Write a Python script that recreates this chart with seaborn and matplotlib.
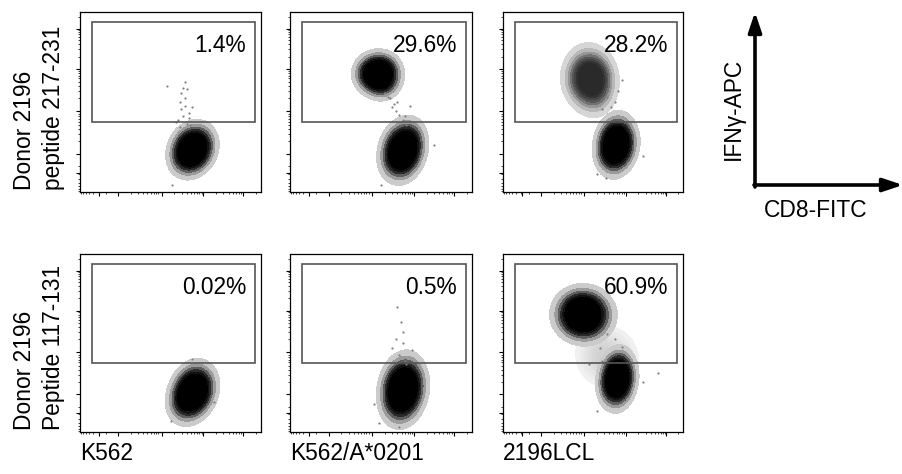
import numpy as np
import pandas as pd
import matplotlib
matplotlib.use("Agg")
import matplotlib.pyplot as plt
from matplotlib.patches import Rectangle
import seaborn as sns

# stimulator cells (columns) and donor/peptide (rows)
targets = ["K562", "K562/A*0201", "2196LCL"]
row_labels = ["Donor 2196\npeptide 217-231", "Donor 2196\nPeptide 117-131"]
gate_pct = [["1.4%", "29.6%", "28.2%"],
            ["0.02%", "0.5%", "60.9%"]]

# IFNg+ gate (fraction of channel range)
gate_x = [0.066, 0.968]
gate_y = [0.39, 0.943]

# cluster cores: centre + outline (N, NE, E, SE, S, SW, W, NW)
r1c1_neg_x = [0.62, 0.625, 0.67, 0.69, 0.665, 0.615, 0.57, 0.555, 0.575]
r1c1_neg_y = [0.235, 0.31, 0.295, 0.245, 0.185, 0.16, 0.175, 0.225, 0.285]

r1c2_pos_x = [0.48, 0.49, 0.535, 0.55, 0.53, 0.49, 0.44, 0.415, 0.44]
r1c2_pos_y = [0.655, 0.715, 0.70, 0.65, 0.60, 0.585, 0.61, 0.655, 0.70]
r1c2_neg_x = [0.62, 0.63, 0.67, 0.685, 0.66, 0.615, 0.57, 0.555, 0.575]
r1c2_neg_y = [0.235, 0.32, 0.30, 0.24, 0.17, 0.145, 0.165, 0.22, 0.29]

r1c3_pos_x = [0.48, 0.48, 0.535, 0.555, 0.54, 0.50, 0.44, 0.405, 0.43]
r1c3_pos_y = [0.63, 0.715, 0.69, 0.63, 0.56, 0.525, 0.555, 0.62, 0.69]
r1c3_neg_x = [0.625, 0.635, 0.675, 0.69, 0.665, 0.62, 0.58, 0.57, 0.59]
r1c3_neg_y = [0.265, 0.35, 0.32, 0.26, 0.20, 0.175, 0.20, 0.26, 0.325]

r2c1_neg_x = [0.62, 0.63, 0.675, 0.69, 0.665, 0.61, 0.565, 0.555, 0.58]
r2c1_neg_y = [0.22, 0.31, 0.285, 0.23, 0.165, 0.135, 0.155, 0.21, 0.28]

r2c2_neg_x = [0.62, 0.625, 0.67, 0.69, 0.665, 0.615, 0.57, 0.555, 0.575]
r2c2_neg_y = [0.24, 0.34, 0.315, 0.245, 0.17, 0.135, 0.16, 0.23, 0.305]

r2c3_pos_x = [0.44, 0.44, 0.50, 0.535, 0.51, 0.45, 0.39, 0.36, 0.385]
r2c3_pos_y = [0.66, 0.735, 0.72, 0.665, 0.60, 0.58, 0.60, 0.655, 0.715]
r2c3_mid_x = [0.57, 0.57, 0.63, 0.66, 0.63, 0.58, 0.52, 0.50, 0.52]
r2c3_mid_y = [0.42, 0.50, 0.48, 0.42, 0.36, 0.34, 0.37, 0.43, 0.48]
r2c3_neg_x = [0.635, 0.64, 0.675, 0.69, 0.67, 0.63, 0.59, 0.58, 0.60]
r2c3_neg_y = [0.30, 0.385, 0.36, 0.30, 0.235, 0.21, 0.235, 0.295, 0.36]

# sparse single events outside the cores
r1c1_dots_x = [0.48, 0.58, 0.55, 0.58, 0.56, 0.60, 0.57, 0.54, 0.59, 0.61, 0.56, 0.58, 0.55, 0.60, 0.57, 0.53, 0.59, 0.62, 0.51, 0.66]
r1c1_dots_y = [0.59, 0.61, 0.50, 0.52, 0.46, 0.44, 0.42, 0.40, 0.38, 0.37, 0.55, 0.48, 0.36, 0.41, 0.58, 0.39, 0.57, 0.47, 0.04, 0.12]
r1c2_dots_x = [0.52, 0.55, 0.57, 0.58, 0.60, 0.62, 0.56, 0.59, 0.63, 0.54, 0.61, 0.64, 0.79, 0.50, 0.66]
r1c2_dots_y = [0.55, 0.52, 0.49, 0.45, 0.43, 0.40, 0.47, 0.50, 0.42, 0.53, 0.38, 0.37, 0.26, 0.04, 0.48]
r1c3_dots_x = [0.58, 0.62, 0.64, 0.60, 0.55, 0.66, 0.78, 0.52, 0.57, 0.45]
r1c3_dots_y = [0.53, 0.50, 0.56, 0.47, 0.46, 0.62, 0.20, 0.10, 0.08, 0.50]
r2c1_dots_x = [0.62, 0.50, 0.74]
r2c1_dots_y = [0.41, 0.06, 0.17]
r2c2_dots_x = [0.59, 0.62, 0.56, 0.67, 0.60, 0.63, 0.58, 0.61, 0.64, 0.57, 0.62, 0.46, 0.49, 0.60]
r2c2_dots_y = [0.70, 0.56, 0.47, 0.46, 0.43, 0.40, 0.52, 0.62, 0.38, 0.39, 0.50, 0.16, 0.05, 0.03]
r2c3_dots_x = [0.86, 0.78, 0.52, 0.58, 0.62, 0.55, 0.66, 0.54, 0.48]
r2c3_dots_y = [0.33, 0.28, 0.12, 0.55, 0.52, 0.40, 0.48, 0.47, 0.38]

clusters = [
    (0, 0, r1c1_neg_x, r1c1_neg_y, "dark"),
    (0, 1, r1c2_pos_x, r1c2_pos_y, "dark"),
    (0, 1, r1c2_neg_x, r1c2_neg_y, "dark"),
    (0, 2, r1c3_pos_x, r1c3_pos_y, "grey"),
    (0, 2, r1c3_neg_x, r1c3_neg_y, "dark"),
    (1, 0, r2c1_neg_x, r2c1_neg_y, "dark"),
    (1, 1, r2c2_neg_x, r2c2_neg_y, "dark"),
    (1, 2, r2c3_mid_x, r2c3_mid_y, "light"),
    (1, 2, r2c3_pos_x, r2c3_pos_y, "dark"),
    (1, 2, r2c3_neg_x, r2c3_neg_y, "dark"),
]
dots = [
    (0, 0, r1c1_dots_x, r1c1_dots_y),
    (0, 1, r1c2_dots_x, r1c2_dots_y),
    (0, 2, r1c3_dots_x, r1c3_dots_y),
    (1, 0, r2c1_dots_x, r2c1_dots_y),
    (1, 1, r2c2_dots_x, r2c2_dots_y),
    (1, 2, r2c3_dots_x, r2c3_dots_y),
]

shades = {
    "dark": sns.blend_palette(["#e4e4e4", "#9a9a9a", "#303030", "#000000", "#000000", "#000000"],
                              as_cmap=True),
    "grey": sns.blend_palette(["#e6e6e6", "#aaaaaa", "#5a5a5a", "#2a2a2a", "#2a2a2a"], as_cmap=True),
    "light": sns.blend_palette(["#f2f2f2", "#d0d0d0"], as_cmap=True),
}

sns.set_style("ticks")
plt.rcParams["font.family"] = ["Liberation Sans", "DejaVu Sans"]
plt.rcParams["text.color"] = "black"
fs = 16.4

W, H = 903, 474
fig = plt.figure(figsize=(W / 100, H / 100), dpi=100)

col_left = [80, 290, 503]
col_width = [181, 182, 180]
row_top = [12, 254]
row_height = [180, 178]

decades = [0.212, 0.452, 0.682, 0.903]
step = 0.23
major = [0.105] + decades
minor = [d + np.log10(k) * step for d in decades for k in range(2, 10) if d + np.log10(k) * step < 1]
minor += [decades[0] - np.log10(k) * step for k in range(2, 10)]

axes = [[None] * 3 for _ in range(2)]
for r in range(2):
    for c in range(3):
        ax = fig.add_axes([col_left[c] / W, 1 - (row_top[r] + row_height[r]) / H,
                           col_width[c] / W, row_height[r] / H])
        ax.set_xlim(0, 1)
        ax.set_ylim(0, 1)
        ax.set_xticks(major)
        ax.set_yticks(major)
        ax.set_xticks(minor, minor=True)
        ax.set_yticks(minor, minor=True)
        ax.set_xticklabels([])
        ax.set_yticklabels([])
        ax.tick_params(which="major", direction="out", length=3, width=0.8, color="black")
        ax.tick_params(which="minor", direction="out", length=1.6, width=0.5, color="black")
        for s in ax.spines.values():
            s.set_visible(True)
            s.set_color("black")
            s.set_linewidth(0.9)
        axes[r][c] = ax

for r, c, xs, ys, shade in clusters:
    ax = axes[r][c]
    df = pd.DataFrame({"x": xs, "y": ys})
    sns.kdeplot(data=df, x="x", y="y", ax=ax, fill=True, cmap=shades[shade],
                levels=12, thresh=0.05, bw_adjust=1.35, clip=((0, 1), (0, 1)))

for r, c, xs, ys in dots:
    sns.scatterplot(x=xs, y=ys, ax=axes[r][c], s=2.5, color="#808080", linewidth=0)

for r in range(2):
    for c in range(3):
        ax = axes[r][c]
        ax.set_xlabel("")
        ax.set_ylabel("")
        ax.set_xlim(0, 1)
        ax.set_ylim(0, 1)
        ax.add_patch(Rectangle((gate_x[0], gate_y[0]), gate_x[1] - gate_x[0], gate_y[1] - gate_y[0],
                               fill=False, ec="#555555", lw=1.2))
        ax.text(0.918, 0.775, gate_pct[r][c], transform=ax.transAxes, ha="right",
                va="baseline", fontsize=fs, color="black")

# row and column labels
for r in range(2):
    fig.text(39 / W, 1 - (row_top[r] + row_height[r] - 2) / H, row_labels[r], rotation=90,
             ha="center", va="bottom", fontsize=fs, linespacing=1.3, multialignment="left",
             color="black")
for c in range(3):
    fig.text(col_left[c] / W, 14 / H, targets[c], ha="left", va="baseline", fontsize=fs,
             color="black")

# axis key
fig.text(733 / W, 1 - 109 / H, "IFN\u03b3-APC", rotation=90, ha="center", va="center",
         fontsize=fs, color="black")
fig.text(816 / W, 1 - 217 / H, "CD8-FITC", ha="center", va="baseline", fontsize=fs, color="black")
key = fig.add_axes([0, 0, 1, 1], facecolor="none")
key.set_axis_off()
arrow = dict(arrowstyle="-|>,head_length=1.2,head_width=0.4", lw=2.6, color="black",
             shrinkA=0, shrinkB=0, mutation_scale=10)
key.annotate("", xy=(755, H - 12), xytext=(755, H - 187), xycoords="figure pixels",
             textcoords="figure pixels", arrowprops=arrow)
key.annotate("", xy=(903, H - 185), xytext=(754, H - 185), xycoords="figure pixels",
             textcoords="figure pixels", arrowprops=arrow)

fig.savefig("out.png", dpi=100)
